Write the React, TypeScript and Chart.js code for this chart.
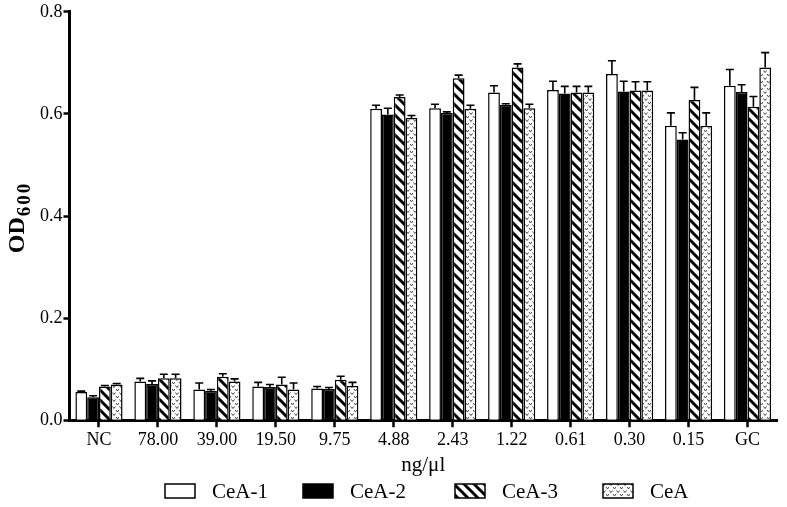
import React, { useEffect, useRef } from "react";
import { Chart, registerables } from "chart.js";

Chart.register(...registerables);

const categories = ["NC", "78.00", "39.00", "19.50", "9.75", "4.88", "2.43", "1.22", "0.61", "0.30", "0.15", "GC"];
const seriesNames = ["CeA-1", "CeA-2", "CeA-3", "CeA"];
const cea1 = [0.055, 0.076, 0.060, 0.066, 0.062, 0.610, 0.611, 0.642, 0.647, 0.678, 0.577, 0.655];
const cea1Err = [0.002, 0.006, 0.013, 0.008, 0.004, 0.007, 0.008, 0.013, 0.017, 0.026, 0.025, 0.032];
const cea2 = [0.045, 0.071, 0.057, 0.065, 0.061, 0.599, 0.602, 0.618, 0.640, 0.644, 0.550, 0.643];
const cea2Err = [0.003, 0.006, 0.003, 0.005, 0.003, 0.012, 0.002, 0.002, 0.014, 0.020, 0.013, 0.014];
const cea3 = [0.066, 0.082, 0.085, 0.070, 0.079, 0.633, 0.670, 0.691, 0.642, 0.646, 0.627, 0.614];
const cea3Err = [0.002, 0.008, 0.006, 0.014, 0.007, 0.004, 0.006, 0.007, 0.012, 0.017, 0.025, 0.020];
const cea = [0.070, 0.082, 0.076, 0.060, 0.067, 0.592, 0.610, 0.611, 0.642, 0.646, 0.577, 0.691];
const ceaErr = [0.002, 0.008, 0.005, 0.013, 0.007, 0.005, 0.007, 0.008, 0.012, 0.017, 0.025, 0.029];
const yTicks = [0, 0.2, 0.4, 0.6, 0.8];

const SERIF = "'Liberation Serif', 'Times New Roman', serif";

function hatchPattern(): CanvasPattern | string {
  const c = document.createElement("canvas");
  const s = 10;
  c.width = s;
  c.height = s;
  const g = c.getContext("2d");
  if (!g) return "#fff";
  g.fillStyle = "#fff";
  g.fillRect(0, 0, s, s);
  g.strokeStyle = "#000";
  g.lineWidth = 3;
  g.lineCap = "square";
  for (const off of [-s, 0, s]) {
    g.beginPath();
    g.moveTo(off, 0);
    g.lineTo(off + s, s);
    g.stroke();
  }
  return g.createPattern(c, "repeat") || "#fff";
}

function dotPattern(): CanvasPattern | string {
  const c = document.createElement("canvas");
  const s = 7;
  c.width = s;
  c.height = s;
  const g = c.getContext("2d");
  if (!g) return "#fff";
  g.fillStyle = "#fff";
  g.fillRect(0, 0, s, s);
  g.strokeStyle = "#444";
  g.lineWidth = 1;
  const v = (x: number, y: number) => {
    g.beginPath();
    g.moveTo(x, y);
    g.lineTo(x + 1.5, y + 2);
    g.lineTo(x + 3, y);
    g.stroke();
  };
  v(0.5, 0.5);
  v(4, 4);
  return g.createPattern(c, "repeat") || "#fff";
}

export default function App() {
  const ref = useRef<HTMLCanvasElement | null>(null);

  useEffect(() => {
    document.body.style.margin = "0";
    const canvas = ref.current;
    if (!canvas) return;
    const values = [cea1, cea2, cea3, cea];
    const errors = [cea1Err, cea2Err, cea3Err, ceaErr];
    const fills = ["#ffffff", "#000000", hatchPattern(), dotPattern()];

    const errorBars = {
      id: "errorBars",
      afterDatasetsDraw(chart: any) {
        const ctx = chart.ctx;
        const y = chart.scales.y;
        ctx.save();
        ctx.strokeStyle = "#000";
        ctx.lineWidth = 1.6;
        chart.data.datasets.forEach((ds: any, i: number) => {
          const meta = chart.getDatasetMeta(i);
          meta.data.forEach((bar: any, j: number) => {
            const v = values[i][j];
            const e = errors[i][j];
            const y0 = y.getPixelForValue(v);
            const y1 = y.getPixelForValue(v + e);
            ctx.beginPath();
            ctx.moveTo(bar.x, y0);
            ctx.lineTo(bar.x, y1);
            ctx.moveTo(bar.x - 4, y1);
            ctx.lineTo(bar.x + 4, y1);
            ctx.stroke();
          });
        });
        ctx.restore();
      },
    };

    const legendPlugin = {
      id: "customLegend",
      afterDraw(chart: any) {
        const ctx = chart.ctx;
        const boxX = [165, 303, 455, 603];
        const cy = 491;
        ctx.save();
        ctx.font = `21px ${SERIF}`;
        ctx.textBaseline = "middle";
        ctx.textAlign = "left";
        seriesNames.forEach((name, i) => {
          const x = boxX[i];
          ctx.fillStyle = fills[i] as any;
          ctx.fillRect(x, cy - 7, 30, 14);
          ctx.strokeStyle = "#000";
          ctx.lineWidth = 1.5;
          ctx.strokeRect(x, cy - 7, 30, 14);
          ctx.fillStyle = "#000";
          ctx.fillText(name, x + 47, cy + 1);
        });
        ctx.restore();
      },
    };

    const yTitle = {
      id: "yTitle",
      afterDraw(chart: any) {
        const ctx = chart.ctx;
        const area = chart.chartArea;
        ctx.save();
        ctx.translate(24, (area.top + area.bottom) / 2 + 2);
        ctx.rotate(-Math.PI / 2);
        ctx.fillStyle = "#000";
        ctx.textBaseline = "alphabetic";
        ctx.font = `bold 24px ${SERIF}`;
        const w1 = ctx.measureText("OD").width;
        ctx.font = `bold 19px ${SERIF}`;
        (ctx as any).letterSpacing = "2px";
        const w2 = ctx.measureText("600").width;
        const start = -(w1 + w2) / 2;
        (ctx as any).letterSpacing = "0px";
        ctx.font = `bold 24px ${SERIF}`;
        ctx.textAlign = "left";
        ctx.fillText("OD", start, 0);
        ctx.font = `bold 19px ${SERIF}`;
        (ctx as any).letterSpacing = "2px";
        ctx.fillText("600", start + w1 + 1, 6);
        ctx.restore();
      },
    };

    const chart = new Chart(canvas, {
      type: "bar",
      data: {
        labels: categories,
        datasets: seriesNames.map((name, i) => ({
          label: name,
          data: values[i],
          backgroundColor: fills[i] as any,
          borderColor: "#000",
          borderWidth: 1.5,
          categoryPercentage: 0.8,
          barPercentage: 1.0,
        })),
      },
      options: {
        responsive: false,
        animation: false,
        layout: { padding: { left: 39, right: 10, top: -6, bottom: 29 } },
        plugins: {
          tooltip: { enabled: false },
          legend: { display: false },
        },
        scales: {
          x: {
            grid: {
              display: true,
              drawOnChartArea: false,
              drawTicks: true,
              offset: false,
              tickLength: 7,
              tickWidth: 2.5,
              tickColor: "#000",
            },
            border: { display: true, color: "#000", width: 3 },
            ticks: { color: "#000", font: { family: SERIF, size: 18 }, padding: 2, maxRotation: 0 },
            title: {
              display: true,
              text: "ng/\u03bcl",
              color: "#000",
              font: { family: SERIF, size: 21 },
              padding: { top: 0, bottom: 0 },
            },
          },
          y: {
            min: 0,
            max: 0.8,
            afterBuildTicks(axis: any) {
              axis.ticks = yTicks.map((v) => ({ value: v }));
            },
            grid: {
              display: true,
              drawOnChartArea: false,
              drawTicks: true,
              tickLength: 6,
              tickWidth: 2.5,
              tickColor: "#000",
            },
            border: { display: true, color: "#000", width: 3 },
            ticks: {
              color: "#000",
              font: { family: SERIF, size: 18 },
              padding: 1,
              callback: (v: any) => Number(v).toFixed(1),
            },
          },
        },
      },
      plugins: [errorBars, yTitle, legendPlugin],
    });
    return () => chart.destroy();
  }, []);

  return (
    <div style={{ width: 787, height: 507, background: "#fff" }}>
      <canvas ref={ref} width={787} height={507} />
    </div>
  );
}
